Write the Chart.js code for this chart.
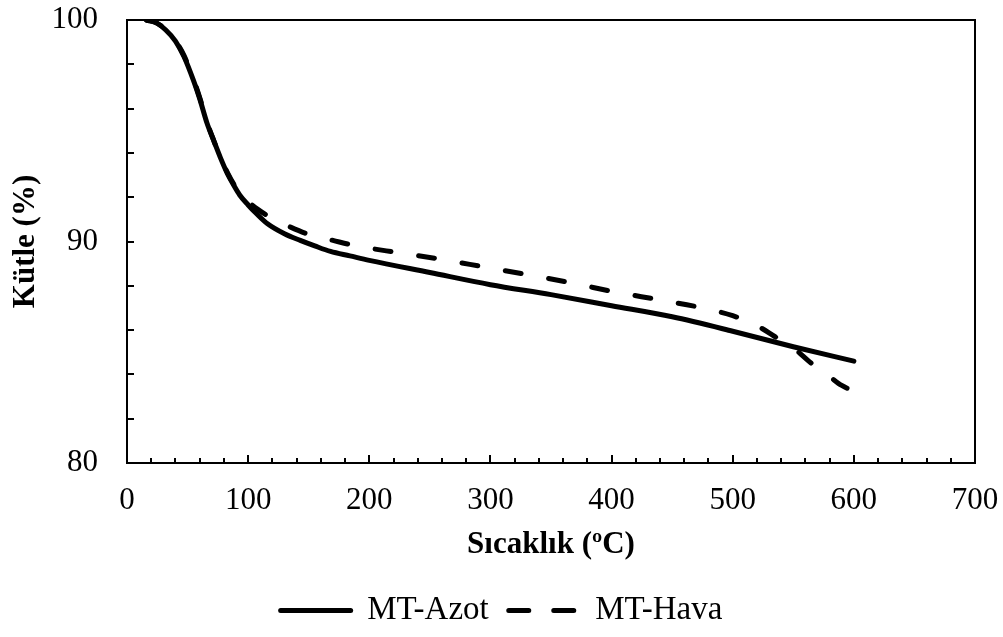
<!DOCTYPE html>
<html>
<head>
<meta charset="utf-8">
<script src="https://cdn.jsdelivr.net/npm/chart.js@4/dist/chart.umd.min.js"></script>
<style>
  html, body { margin: 0; padding: 0; background: #fff; }
  #wrap { width: 1003px; height: 637px; }
</style>
</head>
<body>
<div id="wrap"><canvas id="tgaChart" width="1003" height="637"></canvas></div>
<script>
// MT-Azot (solid)
const azotT = [16, 25, 32, 40, 47, 55, 60, 66, 72, 77, 83, 88, 93, 100, 107, 116, 130, 143, 155, 168, 184, 200, 250, 300, 350, 400, 450, 500, 550, 600];
const azotM = [100, 99.85, 99.55, 99.05, 98.35, 97.25, 96.45, 95.35, 94.5, 93.8, 93.05, 92.55, 92.1, 91.65, 91.25, 90.8, 90.35, 90.05, 89.8, 89.55, 89.35, 89.15, 88.6, 88.05, 87.6, 87.1, 86.6, 85.95, 85.25, 84.6];

// MT-Hava (dashed)
const havaT = [16, 25, 32, 40, 47, 55, 60, 66, 72, 77, 83, 88, 93, 100, 108, 118, 135, 151, 170, 186, 223, 259, 295, 331, 367, 403, 440, 475, 500, 520, 535, 550, 565, 580, 590, 602];
const havaM = [100, 99.85, 99.55, 99.05, 98.4, 97.3, 96.5, 95.4, 94.5, 93.8, 93.1, 92.6, 92.2, 91.8, 91.45, 91.1, 90.65, 90.3, 90.05, 89.84, 89.5, 89.2, 88.85, 88.5, 88.13, 87.72, 87.36, 87.0, 86.65, 86.2, 85.7, 85.2, 84.5, 83.9, 83.5, 83.2];

const seriesNames = ['MT-Azot', 'MT-Hava'];
const xTitle = 'Sıcaklık (ºC)';
const yTitle = 'Kütle (%)';

// 軸の範囲と目盛り間隔
const xMin = 0, xMax = 700, xMajor = 100, xMinor = 20;
const yMin = 80, yMax = 100, yMajor = 10, yMinor = 2;

const FONT = '"Liberation Serif", "Times New Roman", serif';

function toPoints(xs, ys) {
    return xs.map((x, i) => ({x: x, y: ys[i]}));
}

// 枠線と内向きの目盛りを描く
const frameTicks = {
    id: 'frameTicks',
    afterDraw(chart) {
        const ctx = chart.ctx;
        const a = chart.chartArea;
        const xs = chart.scales.x, ys = chart.scales.y;
        ctx.save();
        ctx.strokeStyle = '#000';
        ctx.lineWidth = 2;
        ctx.strokeRect(a.left, a.top, a.right - a.left, a.bottom - a.top);
        ctx.beginPath();
        for (let v = xMin + xMinor; v < xMax; v += xMinor) {
            const px = Math.round(xs.getPixelForValue(v));
            const len = (v % xMajor === 0) ? 8 : 5;
            ctx.moveTo(px, a.bottom);
            ctx.lineTo(px, a.bottom - len);
        }
        for (let v = yMin + yMinor; v < yMax; v += yMinor) {
            const py = Math.round(ys.getPixelForValue(v));
            ctx.moveTo(a.left, py);
            ctx.lineTo(a.left + 7, py);
        }
        ctx.stroke();
        ctx.restore();
    }
};

const ctx = document.getElementById('tgaChart').getContext('2d');
const tgaChart = new Chart(ctx, {
    type: 'line',
    data: {
        datasets: [{
            label: seriesNames[0],
            data: toPoints(azotT, azotM),
            borderColor: '#000',
            backgroundColor: '#000',
            borderWidth: 5,
            pointRadius: 0,
            cubicInterpolationMode: 'monotone',
            borderCapStyle: 'round',
            borderJoinStyle: 'round',
        }, {
            label: seriesNames[1],
            data: toPoints(havaT, havaM),
            borderColor: '#000',
            backgroundColor: '#000',
            borderWidth: 5,
            borderDash: [16, 28],
            pointRadius: 0,
            cubicInterpolationMode: 'monotone',
            borderCapStyle: 'round',
            borderJoinStyle: 'round',
        }]
    },
    options: {
        responsive: false,
        animation: false,
        layout: {
            padding: {left: 28, right: 28, top: 20, bottom: 0}
        },
        plugins: {
            tooltip: {enabled: false},
            legend: {
                position: 'bottom',
                labels: {
                    color: '#000',
                    font: {family: FONT, size: 33},
                    usePointStyle: true,
                    pointStyle: 'line',
                    pointStyleWidth: 70,
                    padding: 20,
                    generateLabels(chart) {
                        const items = Chart.defaults.plugins.legend.labels.generateLabels(chart);
                        items.forEach((it, i) => {
                            it.lineWidth = 5;
                            it.lineCap = 'round';
                            it.lineDash = i === 1 ? [20, 25] : [];
                        });
                        return items;
                    }
                }
            }
        },
        scales: {
            x: {
                type: 'linear',
                min: xMin,
                max: xMax,
                grid: {display: false, drawTicks: true, tickLength: 19},
                border: {display: false},
                ticks: {
                    stepSize: xMajor,
                    padding: 0,
                    color: '#000',
                    font: {family: FONT, size: 31},
                    maxRotation: 0,
                },
                title: {
                    display: true,
                    text: xTitle,
                    color: '#000',
                    font: {family: FONT, size: 31, weight: 'bold'},
                    padding: {top: 0, bottom: 10}
                },
                afterFit(scale) {
                    scale.height = 111;
                }
            },
            y: {
                min: yMin,
                max: yMax,
                grid: {display: false, drawTicks: true, tickLength: 29},
                border: {display: false},
                ticks: {
                    stepSize: yMajor,
                    padding: 0,
                    color: '#000',
                    font: {family: FONT, size: 31},
                },
                title: {
                    display: true,
                    text: yTitle,
                    color: '#000',
                    font: {family: FONT, size: 31, weight: 'bold'},
                    padding: {top: -21, bottom: 0}
                },
                afterFit(scale) {
                    scale.width = 99;
                }
            }
        }
    },
    plugins: [frameTicks]
});
</script>
</body>
</html>
